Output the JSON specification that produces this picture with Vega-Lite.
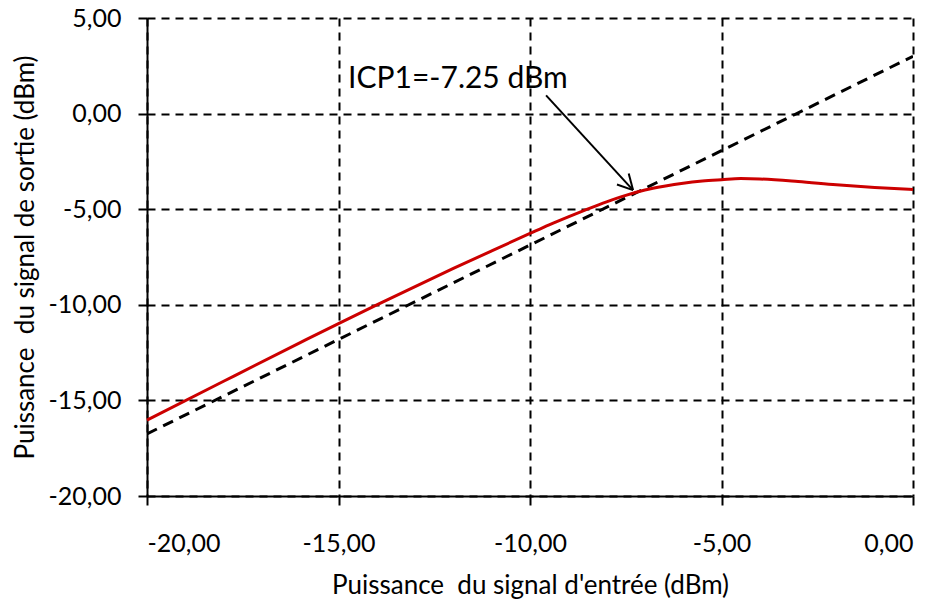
{
  "$schema": "https://vega.github.io/schema/vega-lite/v6.json",
  "width": 766,
  "height": 478,
  "autosize": "none",
  "padding": {"left": 147, "top": 18, "right": 31, "bottom": 106},
  "background": "white",
  "config": {
    "locale": {"number": {"decimal": ",", "thousands": " ", "grouping": [3], "currency": ["", " €"], "minus": "-"}},
    "view": {"stroke": null},
    "font": "Lato",
    "axis": {
      "labelFont": "Lato", "labelFontSize": 25, "labelColor": "black",
      "titleFont": "Lato", "titleFontSize": 26, "titleFontWeight": "normal", "titleColor": "black",
      "domainColor": "black", "domainWidth": 2,
      "tickColor": "black", "tickWidth": 2, "tickSize": 9,
      "gridColor": "black", "gridWidth": 2, "gridDash": [8, 6], "gridOpacity": 1
    }
  },
  "datasets": {
    "out": [
      {"pin": -20, "pout": -16.03},
      {"pin": -18, "pout": -14.0},
      {"pin": -16, "pout": -11.98},
      {"pin": -15, "pout": -10.98},
      {"pin": -14, "pout": -10.0},
      {"pin": -12, "pout": -8.1},
      {"pin": -11, "pout": -7.18},
      {"pin": -10, "pout": -6.27},
      {"pin": -9.5, "pout": -5.82},
      {"pin": -9, "pout": -5.4},
      {"pin": -8.5, "pout": -5.0},
      {"pin": -8, "pout": -4.62},
      {"pin": -7.5, "pout": -4.28},
      {"pin": -7, "pout": -4.0},
      {"pin": -6.5, "pout": -3.8},
      {"pin": -6, "pout": -3.64},
      {"pin": -5.5, "pout": -3.53},
      {"pin": -5, "pout": -3.46},
      {"pin": -4.5, "pout": -3.4},
      {"pin": -4, "pout": -3.42},
      {"pin": -3, "pout": -3.55},
      {"pin": -2, "pout": -3.72},
      {"pin": -1, "pout": -3.86},
      {"pin": 0, "pout": -3.97}
    ],
    "lin": [
      {"pin": -20, "pout": -16.75},
      {"pin": 0, "pout": 3.0}
    ],
    "arrow": [
      {"x1": -9.58, "y1": 0.95, "x2": -7.31, "y2": -4.0},
      {"x1": -7.729, "y1": -3.707, "x2": -7.31, "y2": -4.0},
      {"x1": -7.423, "y1": -3.139, "x2": -7.31, "y2": -4.0}
    ],
    "label": [
      {"x": -14.75, "y": 1.33, "text": "ICP1=-7.25 dBm"}
    ]
  },
  "layer": [
    {
      "data": {"name": "lin"},
      "mark": {"type": "line", "color": "black", "strokeWidth": 3, "strokeDash": [11, 7], "clip": true},
      "encoding": {
        "x": {
          "field": "pin", "type": "quantitative",
          "scale": {"domain": [-20, 0], "nice": false, "zero": false},
          "axis": {"values": [-20, -15, -10, -5, 0], "format": ".2f", "title": "Puissance\u00a0 du signal d'entrée (dBm)", "labelPadding": 26, "titlePadding": 16}
        },
        "y": {
          "field": "pout", "type": "quantitative",
          "scale": {"domain": [-20, 5], "nice": false, "zero": false},
          "axis": {"values": [-20, -15, -10, -5, 0, 5], "format": ".2f", "title": "Puissance\u00a0 du signal de sortie (dBm)", "labelPadding": 17, "titlePadding": 10}
        }
      }
    },
    {
      "data": {"name": "out"},
      "mark": {"type": "line", "color": "#CC0000", "strokeWidth": 3, "interpolate": "monotone"},
      "encoding": {
        "x": {"field": "pin", "type": "quantitative"},
        "y": {"field": "pout", "type": "quantitative"}
      }
    },
    {
      "data": {"name": "arrow"},
      "mark": {"type": "rule", "color": "black", "strokeWidth": 2},
      "encoding": {
        "x": {"field": "x1", "type": "quantitative"},
        "y": {"field": "y1", "type": "quantitative"},
        "x2": {"field": "x2"},
        "y2": {"field": "y2"}
      }
    },
    {
      "data": {"name": "label"},
      "mark": {"type": "text", "align": "left", "baseline": "alphabetic", "font": "Lato", "fontSize": 30, "color": "black"},
      "encoding": {
        "x": {"field": "x", "type": "quantitative"},
        "y": {"field": "y", "type": "quantitative"},
        "text": {"field": "text"}
      }
    }
  ]
}
